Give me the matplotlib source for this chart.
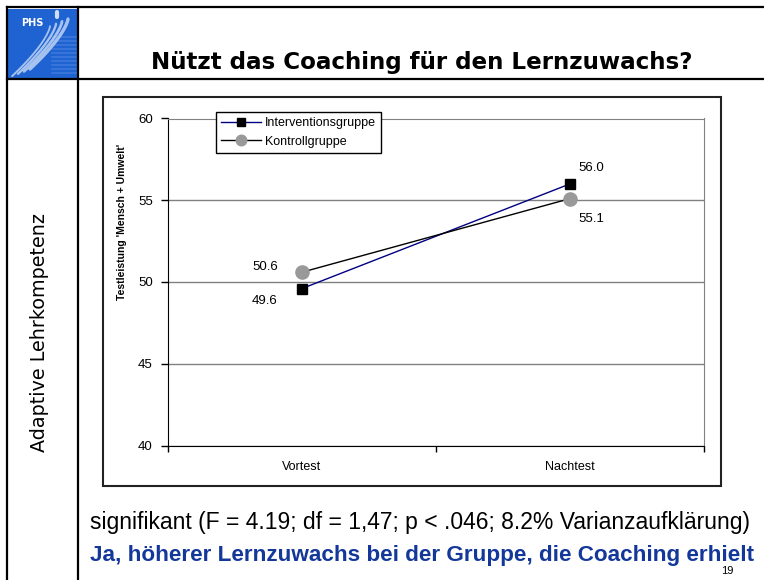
import numpy as np
import matplotlib
matplotlib.use("Agg")
import matplotlib.pyplot as plt
from matplotlib.lines import Line2D
from matplotlib.patches import Rectangle

# chart data
categories = ["Vortest", "Nachtest"]
intervention = [49.6, 56.0]
kontroll = [50.6, 55.1]
y_ticks = [40, 45, 50, 55, 60]

W, H = 764, 580


def fx(x):
    return x / W


def fy(y):
    return 1 - y / H


fig = plt.figure(figsize=(W / 100, H / 100), dpi=100)

# slide frame lines
for (x0, y0, x1, y1) in [(7, 7, 764, 7), (7, 7, 7, 580), (78, 7, 78, 580), (7, 79, 764, 79)]:
    fig.add_artist(Line2D([fx(x0), fx(x1)], [fy(y0), fy(y1)], color="black", lw=1.6))

# logo (blue square with stripes)
logo = fig.add_axes([fx(8), fy(78), fx(69), 69 / H])
logo.set_facecolor("#1f63d2")
logo.set_xlim(0, 69)
logo.set_ylim(69, 0)
logo.set_xticks([])
logo.set_yticks([])
for s in logo.spines.values():
    s.set_visible(False)
for yy in range(28, 68, 4):
    logo.plot([44, 69], [yy, yy], color="#4a80dc", lw=1.2, alpha=0.7)
t = np.linspace(0, 1, 40)
for i, off in enumerate([0, 6, 12, 18]):
    xs = 60 - off - 38 * t ** 1.4
    ys = 10 + off * 0.4 + 50 * t
    logo.plot(xs, ys, color="#b5cdf3", lw=2.4 - i * 0.35, alpha=0.9, solid_capstyle="round")
logo.plot([49, 49], [3, 8], color="#d0def7", lw=3, solid_capstyle="round")
logo.text(13, 14, "PHS", color="white", fontsize=7, fontweight="bold",
          family="DejaVu Sans", va="center", ha="left")

# title
fig.text(fx(422), fy(62), "Nützt das Coaching für den Lernzuwachs?", ha="center", va="center",
         fontsize=16.6, fontweight="bold", family="DejaVu Sans")

# side label
fig.text(fx(40), fy(332), "Adaptive Lehrkompetenz", rotation=90, ha="center", va="center",
         fontsize=13.8, family="DejaVu Sans")

# chart box
fig.add_artist(Rectangle((fx(103), fy(486)), fx(618), (486 - 97) / H, facecolor="none",
                         edgecolor="#222222", lw=1.5))

ax = fig.add_axes([fx(168), fy(445.5), fx(704 - 168), (445.5 - 118.5) / H])
x = np.arange(len(categories))
ax.plot(x, intervention, color="#000080", lw=1, marker="s", ms=6.5, mfc="black", mec="black",
        label="Interventionsgruppe", zorder=3)
ax.plot(x, kontroll, color="black", lw=1, marker="o", ms=9.5, mfc="#999999", mec="#999999",
        label="Kontrollgruppe", zorder=3)

ax.set_xlim(-0.5, 1.5)
ax.set_ylim(40, 60)
ax.set_yticks(y_ticks)
ax.set_yticklabels([str(v) for v in y_ticks], family="Liberation Sans", fontsize=9.5)
ax.set_xticks(x)
ax.set_xticklabels(categories, family="Liberation Sans", fontsize=9)
ax.tick_params(axis="x", length=0, pad=11)
ax.tick_params(axis="y", length=5, direction="out", width=1, pad=6)
ax.set_xticks([-0.5, 0.5, 1.5], minor=True)
ax.tick_params(axis="x", which="minor", length=4, direction="out", width=1)
ax.grid(axis="y", color="#808080", lw=1)
ax.set_axisbelow(True)
ax.spines["top"].set_color("#808080")
ax.spines["right"].set_color("#808080")
ax.spines["left"].set_color("black")
ax.spines["bottom"].set_color("black")

ax.set_ylabel("Testleistung 'Mensch + Umwelt'", fontweight="bold", family="Liberation Sans",
              fontsize=7.5)
ax.yaxis.set_label_coords((127 - 168) / 536, (445.5 - 222) / 327)

# data labels
lab_kw = dict(family="Liberation Sans", fontsize=9.5, textcoords="offset pixels", va="center")
ax.annotate(f"{kontroll[0]:.1f}", (x[0], kontroll[0]), xytext=(-37, 5), ha="center", **lab_kw)
ax.annotate(f"{intervention[0]:.1f}", (x[0], intervention[0]), xytext=(-37, -12), ha="center", **lab_kw)
ax.annotate(f"{intervention[1]:.1f}", (x[1], intervention[1]), xytext=(21, 16), ha="center", **lab_kw)
ax.annotate(f"{kontroll[1]:.1f}", (x[1], kontroll[1]), xytext=(21, -20), ha="center", **lab_kw)

leg = ax.legend(loc="upper left", bbox_to_anchor=(fx(216), fy(112)), bbox_transform=fig.transFigure,
                prop={"family": "Liberation Sans", "size": 9}, frameon=True, fancybox=False,
                edgecolor="black", framealpha=1, handlelength=3.2, borderpad=0.4,
                labelspacing=0.55, handletextpad=0.3, borderaxespad=0, markerscale=0.8)
leg.get_frame().set_linewidth(1)

# footer text
fig.text(fx(90), fy(522), "signifikant (F = 4.19; df = 1,47; p < .046; 8.2% Varianzaufklärung)",
         ha="left", va="center", fontsize=16.5, family="Liberation Sans")
fig.text(fx(90), fy(555), "Ja, höherer Lernzuwachs bei der Gruppe, die Coaching erhielt",
         ha="left", va="center", fontsize=16.2, fontweight="bold", color="#14389a",
         family="Liberation Sans")
fig.text(fx(727), fy(571), "19", ha="center", va="center", fontsize=8, family="Liberation Sans")

fig.savefig("out.png", dpi=100)
